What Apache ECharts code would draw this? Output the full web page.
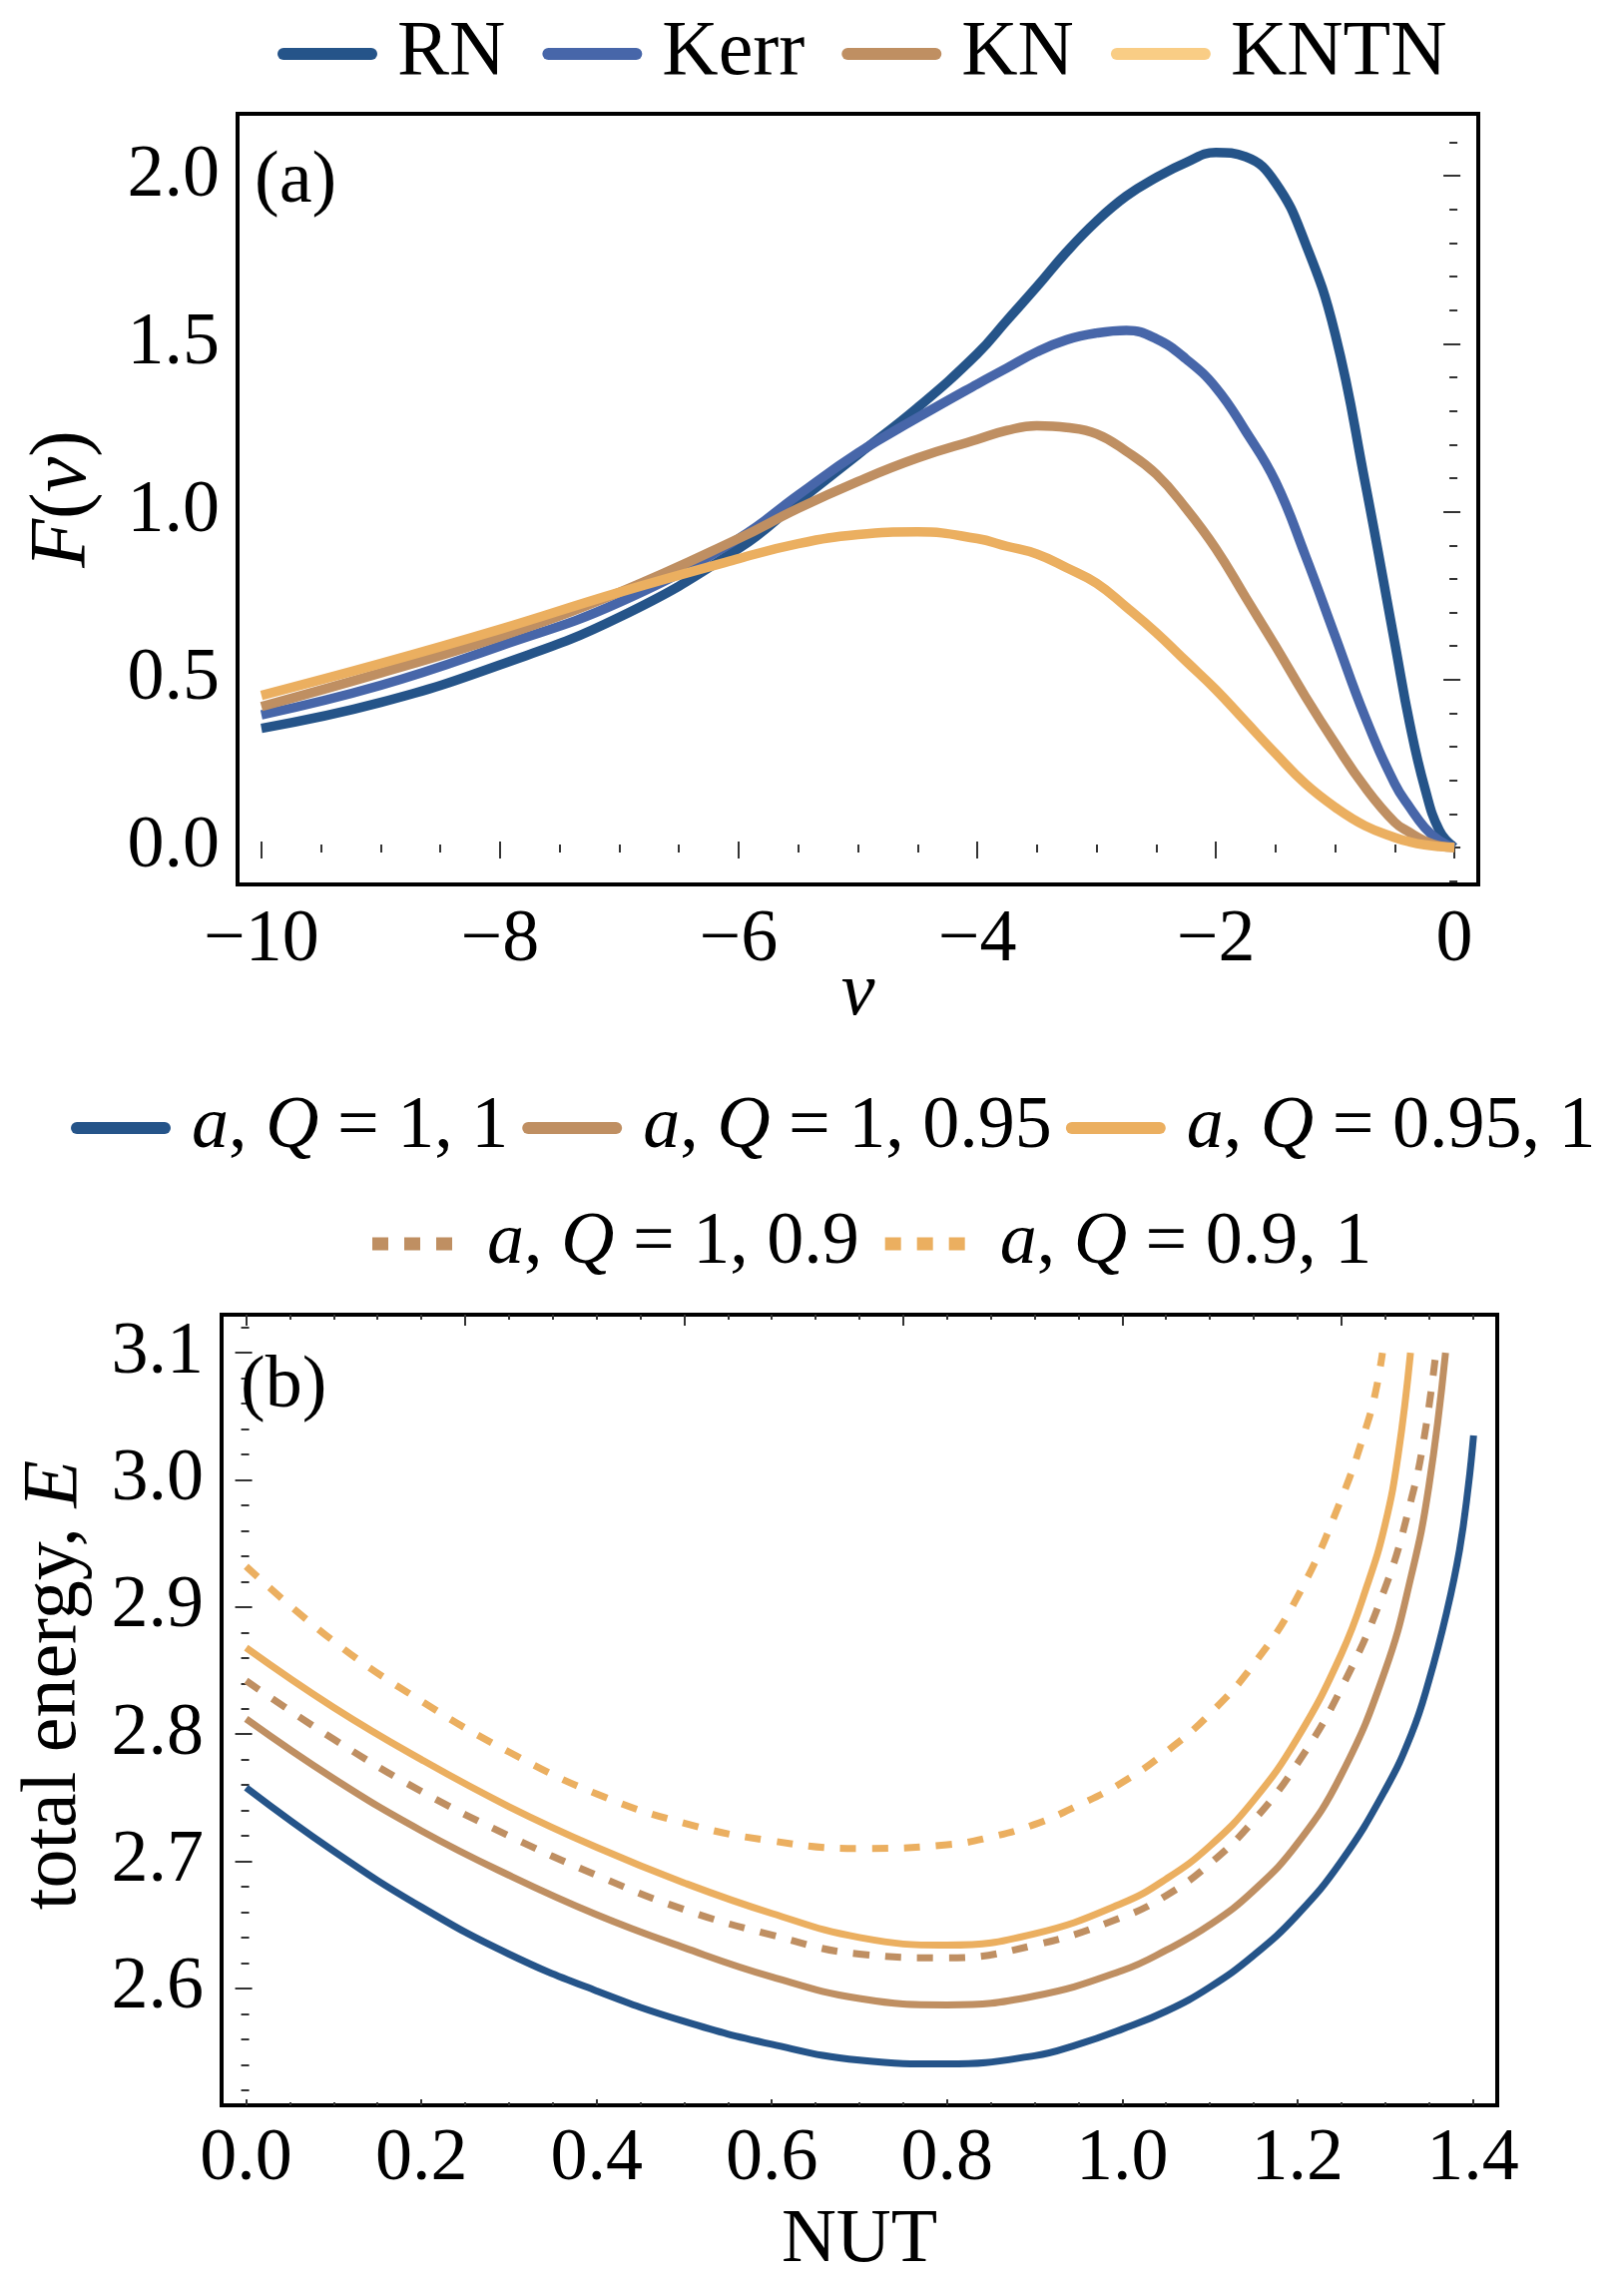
<!DOCTYPE html>
<html>
<head>
<meta charset="utf-8">
<script src="https://cdn.jsdelivr.net/npm/echarts@6/dist/echarts.min.js"></script>
<style>
  html, body { margin: 0; padding: 0; background: #fff; }
  #main { width: 1627px; height: 2285px; }
</style>
</head>
<body>
<div id="main"></div>
<script>
// ---- panel (a): F(v) ----
const vA = [-10, -9, -8, -7, -6, -5.5, -5, -4.5, -4, -3.75, -3.5, -3.25, -3, -2.75, -2.5, -2.25, -2, -1.75, -1.5, -1.25, -1, -0.75, -0.5, -0.375, -0.25, -0.125, 0];
const fRN   = [0.355, 0.432, 0.544, 0.686, 0.89, 1.03, 1.17, 1.31, 1.47, 1.57, 1.67, 1.774, 1.865, 1.94, 1.995, 2.04, 2.07, 2.057, 1.98, 1.80, 1.53, 1.09, 0.61, 0.37, 0.18, 0.05, 0];
const fKerr = [0.395, 0.483, 0.60, 0.73, 0.92, 1.05, 1.175, 1.28, 1.38, 1.428, 1.476, 1.512, 1.532, 1.54, 1.515, 1.455, 1.37, 1.24, 1.09, 0.87, 0.63, 0.39, 0.19, 0.12, 0.06, 0.02, 0];
const fKN   = [0.42, 0.52, 0.628, 0.76, 0.92, 1.01, 1.09, 1.16, 1.215, 1.242, 1.256, 1.251, 1.232, 1.18, 1.112, 1.01, 0.89, 0.745, 0.60, 0.45, 0.31, 0.18, 0.075, 0.045, 0.02, 0.005, 0];
const fKNTN = [0.453, 0.548, 0.65, 0.76, 0.86, 0.905, 0.932, 0.94, 0.92, 0.897, 0.874, 0.833, 0.787, 0.716, 0.64, 0.555, 0.47, 0.375, 0.28, 0.19, 0.12, 0.065, 0.03, 0.017, 0.008, 0.003, 0];

// ---- panel (b): total energy vs NUT ----
const nut11   = [0, 0.1, 0.2, 0.3, 0.4, 0.5, 0.6, 0.7, 0.8, 0.9, 0.95, 1.0, 1.05, 1.1, 1.15, 1.2, 1.25, 1.3, 1.33, 1.35, 1.37, 1.385, 1.395, 1.401];
const e11     = [2.758, 2.708, 2.664, 2.627, 2.598, 2.574, 2.556, 2.5435, 2.5405, 2.547, 2.556, 2.568, 2.582, 2.601, 2.626, 2.658, 2.700, 2.756, 2.800, 2.842, 2.895, 2.945, 2.995, 3.035];
const nut1_95 = [0, 0.1, 0.2, 0.3, 0.4, 0.5, 0.6, 0.7, 0.8, 0.9, 1.0, 1.05, 1.1, 1.15, 1.2, 1.25, 1.3, 1.33, 1.35, 1.369];
const e1_95   = [2.812, 2.765, 2.724, 2.689, 2.658, 2.632, 2.609, 2.592, 2.587, 2.594, 2.614, 2.630, 2.650, 2.677, 2.714, 2.768, 2.850, 2.925, 2.995, 3.10];
const nut95_1 = [0, 0.1, 0.2, 0.3, 0.4, 0.5, 0.6, 0.7, 0.8, 0.9, 1.0, 1.05, 1.1, 1.15, 1.2, 1.25, 1.28, 1.3, 1.315, 1.329];
const e95_1   = [2.868, 2.821, 2.780, 2.743, 2.711, 2.683, 2.659, 2.640, 2.634, 2.643, 2.667, 2.686, 2.712, 2.748, 2.797, 2.863, 2.918, 2.965, 3.02, 3.10];
const nut1_9  = [0, 0.1, 0.2, 0.3, 0.4, 0.5, 0.6, 0.7, 0.8, 0.9, 1.0, 1.05, 1.1, 1.15, 1.2, 1.25, 1.3, 1.33, 1.345, 1.358];
const e1_9    = [2.842, 2.796, 2.755, 2.720, 2.689, 2.662, 2.642, 2.627, 2.624, 2.634, 2.656, 2.673, 2.698, 2.732, 2.777, 2.836, 2.915, 2.985, 3.035, 3.10];
const nut9_1  = [0, 0.1, 0.2, 0.3, 0.4, 0.5, 0.6, 0.7, 0.8, 0.85, 0.9, 0.95, 1.0, 1.05, 1.1, 1.15, 1.2, 1.25, 1.28, 1.29, 1.297];
const e9_1    = [2.932, 2.873, 2.826, 2.786, 2.753, 2.730, 2.716, 2.710, 2.713, 2.719, 2.729, 2.744, 2.762, 2.786, 2.816, 2.855, 2.908, 2.985, 3.045, 3.072, 3.10];

// tick labels
const xTicksA = [-10, -8, -6, -4, -2, 0];
const yTicksA = [0, 0.5, 1.0, 1.5, 2.0];
const xTicksB = [0, 0.2, 0.4, 0.6, 0.8, 1.0, 1.2, 1.4];
const xTopTicksB = [0, 0.25, 0.5, 0.75, 1.0, 1.25];
const yTicksB = [2.6, 2.7, 2.8, 2.9, 3.0, 3.1];

const FONT = 'Liberation Serif';
const C_RN = '#255489', C_KERR = '#4766a9', C_KN = '#bf8f62', C_KNTN = '#ebaf60';

function pairs(xs, ys) { return xs.map(function (x, i) { return [x, ys[i]]; }); }
function steps(a, b, d) {
    const out = [];
    for (let v = a; v <= b + 1e-9; v += d) out.push(Math.round(v * 1000) / 1000);
    return out;
}

// one axis that only carries ticks (frame style, ticks pointing inward)
function tickAxis(grid, position, min, max, vals, len) {
    return {
        type: 'value', gridIndex: grid, position: position, min: min, max: max,
        axisLine: { show: false }, splitLine: { show: false },
        axisTick: { show: true, inside: true, length: len, customValues: vals, lineStyle: { color: '#333', width: 2 } },
        axisLabel: { show: false }
    };
}

const italic = { fontStyle: 'italic', fontFamily: FONT };

const xAxes = [];
const yAxes = [];

// panel (a) axes
const xa = tickAxis(0, 'bottom', -10.2, 0.2, xTicksA, 6);
xa.axisLabel = {
    show: true, customValues: xTicksA, fontFamily: FONT, fontSize: 74, color: '#000', margin: 20,
    formatter: function (v) { return v < 0 ? '\u2212' + Math.abs(v) : String(v); }
};
xa.name = 'v'; xa.nameLocation = 'middle'; xa.nameGap = 72; xa.nameMoveOverlap = false;
xa.nameTextStyle = { fontFamily: FONT, fontStyle: 'italic', fontSize: 76, color: '#000', lineHeight: 76 };
xAxes.push(xa, tickAxis(0, 'bottom', -10.2, 0.2, steps(-10, 0, 0.5), 3),
    tickAxis(0, 'top', -10.2, 0.2, xTicksA, 11), tickAxis(0, 'top', -10.2, 0.2, steps(-10, 0, 0.5), 5));

const ya = tickAxis(0, 'left', -0.11, 2.185, yTicksA, 6);
ya.axisLabel = {
    show: true, customValues: yTicksA, fontFamily: FONT, fontSize: 74, color: '#000', margin: 18,
    formatter: function (v) { return v.toFixed(1); }
};
ya.name = '{i|F}({i|v})'; ya.nameLocation = 'middle'; ya.nameGap = 134;
ya.nameTextStyle = { fontFamily: FONT, fontSize: 80, color: '#000', lineHeight: 80,
    rich: { i: Object.assign({ fontSize: 80 }, italic) } };
yAxes.push(ya, tickAxis(0, 'left', -0.11, 2.185, steps(-0.1, 2.1, 0.1), 3),
    tickAxis(0, 'right', -0.11, 2.185, yTicksA, 11), tickAxis(0, 'right', -0.11, 2.185, steps(-0.1, 2.1, 0.1), 5));

// panel (b) axes
const xb = tickAxis(1, 'bottom', -0.028, 1.428, xTicksB, 6);
xb.axisLabel = {
    show: true, customValues: xTicksB, fontFamily: FONT, fontSize: 74, color: '#000', margin: 18,
    formatter: function (v) { return v.toFixed(1); }
};
xb.name = 'NUT'; xb.nameLocation = 'middle'; xb.nameGap = 98; xb.nameMoveOverlap = false;
xb.nameTextStyle = { fontFamily: FONT, fontSize: 76, color: '#000', lineHeight: 76 };
xAxes.push(xb, tickAxis(1, 'bottom', -0.028, 1.428, steps(0, 1.4, 0.05), 3),
    tickAxis(1, 'top', -0.028, 1.428, xTopTicksB, 11), tickAxis(1, 'top', -0.028, 1.428, steps(0, 1.4, 0.05), 5));

const yb = tickAxis(1, 'left', 2.508, 3.13, yTicksB, 6);
yb.axisLabel = {
    show: true, customValues: yTicksB, fontFamily: FONT, fontSize: 74, color: '#000', margin: 18,
    formatter: function (v) { return v.toFixed(1); }
};
yb.name = 'total energy, {i|E}'; yb.nameLocation = 'middle'; yb.nameGap = 128;
yb.nameTextStyle = { fontFamily: FONT, fontSize: 78, color: '#000', lineHeight: 78, padding: [0, 0, 0, 50],
    rich: { i: Object.assign({ fontSize: 78 }, italic) } };
yAxes.push(yb, tickAxis(1, 'left', 2.508, 3.13, steps(2.52, 3.12, 0.02), 3),
    tickAxis(1, 'right', 2.508, 3.13, yTicksB, 11), tickAxis(1, 'right', 2.508, 3.13, steps(2.52, 3.12, 0.02), 5));

function lineA(name, ys, color) {
    return {
        type: 'line', name: name, xAxisIndex: 0, yAxisIndex: 0, data: pairs(vA, ys),
        symbol: 'none', showSymbol: false, smooth: 0.45, color: color,
        lineStyle: { width: 9.5, color: color, join: 'round' }
    };
}
function lineB(name, xs, ys, color, dashed) {
    return {
        type: 'line', name: name, xAxisIndex: 4, yAxisIndex: 4, data: pairs(xs, ys),
        symbol: 'none', showSymbol: false, smooth: 0.45, color: color,
        lineStyle: { width: 7, color: color, type: dashed ? [16, 16] : 'solid', cap: 'butt', join: 'round' }
    };
}

const solidIcon = 'path://M6,0H94A6,6 0 0 1 94,12H6A6,6 0 0 1 6,0Z';
const dotIcon = 'path://M0,0H16V13H0ZM32,0H48V13H32ZM64,0H80V13H64Z';
function legendText(size) {
    return {
        fontFamily: FONT, fontSize: size, color: '#000', lineHeight: size,
        rich: { i: Object.assign({ fontSize: size, lineHeight: size }, italic) }
    };
}
function mathName(name) { return name.replace('a, Q', '{i|a}, {i|Q}'); }

const chart = echarts.init(document.getElementById('main'), null, { renderer: 'canvas' });
chart.setOption({
    animation: false,
    backgroundColor: '#fff',
    title: [
        { text: '(a)', left: 250, top: 141, textStyle: { fontFamily: FONT, fontSize: 74, fontWeight: 'normal', color: '#000', lineHeight: 74 } },
        { text: '(b)', left: 236, top: 1348, textStyle: { fontFamily: FONT, fontSize: 74, fontWeight: 'normal', color: '#000', lineHeight: 74 } }
    ],
    legend: [
        {
            left: 278, top: 15, padding: 0, itemWidth: 100, itemHeight: 13, itemGap: 37, selectedMode: false,
            itemStyle: { borderWidth: 0 },
            textStyle: Object.assign({ padding: [0, 0, 0, 15] }, legendText(78)),
            data: [
                { name: 'RN', icon: solidIcon }, { name: 'Kerr', icon: solidIcon },
                { name: 'KN', icon: solidIcon }, { name: 'KNTN', icon: solidIcon, itemStyle: { color: '#f9cd85' } }
            ]
        },
        {
            left: 71, top: 1093, padding: 0, width: 1600, itemWidth: 100, itemHeight: 13, itemGap: 14, selectedMode: false,
            itemStyle: { borderWidth: 0 },
            textStyle: Object.assign({ padding: [0, 0, 0, 16] }, legendText(74)),
            formatter: mathName,
            data: [
                { name: 'a, Q = 1, 1', icon: solidIcon }, { name: 'a, Q = 1, 0.95', icon: solidIcon },
                { name: 'a, Q = 0.95, 1', icon: solidIcon }
            ]
        },
        {
            left: 373, top: 1209, padding: 0, itemWidth: 80, itemHeight: 13, itemGap: 26, selectedMode: false,
            itemStyle: { borderWidth: 0 },
            textStyle: Object.assign({ padding: [0, 0, 0, 30] }, legendText(74)),
            formatter: mathName,
            data: [
                { name: 'a, Q = 1, 0.9', icon: dotIcon }, { name: 'a, Q = 0.9, 1', icon: dotIcon }
            ]
        }
    ],
    grid: [
        { left: 238, top: 114, width: 1243, height: 772, show: true, borderColor: '#000', borderWidth: 4, backgroundColor: 'transparent' },
        { left: 222, top: 1317, width: 1278, height: 792, show: true, borderColor: '#000', borderWidth: 4, backgroundColor: 'transparent' }
    ],
    xAxis: xAxes,
    yAxis: yAxes,
    series: [
        lineA('RN', fRN, C_RN),
        lineA('Kerr', fKerr, C_KERR),
        lineA('KN', fKN, C_KN),
        lineA('KNTN', fKNTN, C_KNTN),
        lineB('a, Q = 1, 1', nut11, e11, C_RN, false),
        lineB('a, Q = 1, 0.95', nut1_95, e1_95, C_KN, false),
        lineB('a, Q = 0.95, 1', nut95_1, e95_1, C_KNTN, false),
        lineB('a, Q = 1, 0.9', nut1_9, e1_9, C_KN, true),
        lineB('a, Q = 0.9, 1', nut9_1, e9_1, C_KNTN, true)
    ]
});
</script>
</body>
</html>
